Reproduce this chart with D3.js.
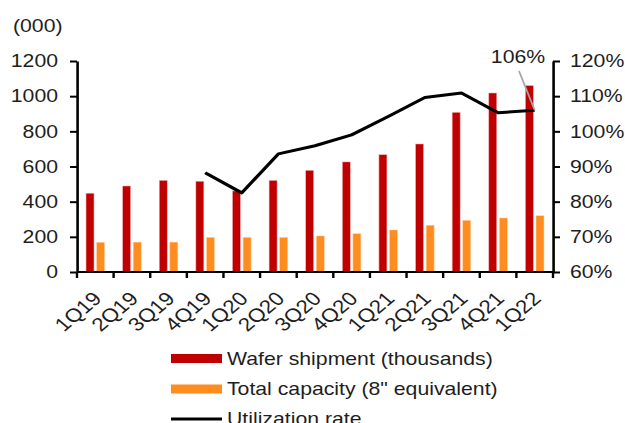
<!DOCTYPE html>
<html><head><meta charset="utf-8">
<script src="https://cdn.jsdelivr.net/npm/d3@7"></script>
<style>
html,body{margin:0;padding:0;background:#fff;overflow:hidden}
svg{display:block}
text{font-family:"Liberation Sans",Arial,sans-serif;fill:#1e1e1e}
</style></head>
<body>
<svg id="c" width="625" height="423"></svg>
<script>
const categories = ["1Q19","2Q19","3Q19","4Q19","1Q20","2Q20","3Q20","4Q20","1Q21","2Q21","3Q21","4Q21","1Q22"];
const waferShipment = [448,489,521,516,461,521,578,626,667,728,908,1018,1060];
const totalCapacity = [169,170,170,197,197,197,205,218,239,266,294,307,320];
const utilization = [null,null,null,0.882,0.825,0.936,0.959,0.990,1.042,1.096,1.109,1.053,1.060];
const leftTicks = [0,200,400,600,800,1000,1200];
const rightTicks = [0.6,0.7,0.8,0.9,1.0,1.1,1.2];
const seriesNames = ["Wafer shipment (thousands)","Total capacity (8\" equivalent)","Utilization rate"];
const colors = {red:"#C00000", orange:"#FF8C1E", line:"#000000"};

const SX = 1.18;           // horizontal stretch of the original picture
const ix = v => v / SX;    // screen x -> internal x
const FS = 18;

const svg = d3.select("#c");
const g = svg.append("g").attr("transform", `scale(${SX},1)`);

const x = d3.scaleBand().domain(categories).range([ix(77), ix(553)]).padding(0);
const xs = d3.scaleBand().domain(["w","c"]).range([ix(-9.3), ix(9.3)]).paddingInner(0.245);
const yL = d3.scaleLinear().domain([0,1200]).range([272,61]);
const yR = d3.scaleLinear().domain([0.6,1.2]).range([272,61]);

// bars
const cx = d => x(d) + x.bandwidth()/2;
g.append("g").selectAll("rect").data(categories).join("rect")
  .attr("x", d => cx(d) + xs("w")).attr("width", xs.bandwidth())
  .attr("y", (d,i) => yL(waferShipment[i])).attr("height", (d,i) => yL(0) - yL(waferShipment[i]))
  .attr("fill", colors.red).attr("stroke","#f0b4b4").attr("stroke-width",0.5);
g.append("g").selectAll("rect").data(categories).join("rect")
  .attr("x", d => cx(d) + xs("c")).attr("width", xs.bandwidth())
  .attr("y", (d,i) => yL(totalCapacity[i])).attr("height", (d,i) => yL(0) - yL(totalCapacity[i]))
  .attr("fill", colors.orange).attr("stroke","#ffd2a8").attr("stroke-width",0.5);

// line
const lineData = categories.map((c,i)=>({c, v: utilization[i]})).filter(d => d.v != null);
g.append("path").datum(lineData)
  .attr("d", d3.line().x(d => cx(d.c)).y(d => yR(d.v)))
  .attr("fill","none").attr("stroke",colors.line).attr("stroke-width",3).attr("stroke-linejoin","round");

// annotation
const last = lineData[lineData.length-1];
g.append("line")
  .attr("x1", ix(519)).attr("y1", 71)
  .attr("x2", cx(last.c)).attr("y2", yR(last.v))
  .attr("stroke","#a6a6a6").attr("stroke-width",1.5);
g.append("text").attr("x", ix(518)).attr("y", 57).attr("dy","0.35em")
  .attr("text-anchor","middle").style("font-size", FS+"px")
  .text(d3.format(".0%")(last.v));

// left axis
const aL = g.append("g").attr("transform", `translate(${ix(77)},0)`)
  .call(d3.axisLeft(yL).tickValues(leftTicks).tickFormat(d3.format("d")).tickSize(ix(7)).tickPadding(ix(12)).tickSizeOuter(0));
// right axis
const aR = g.append("g").attr("transform", `translate(${ix(553)},0)`)
  .call(d3.axisRight(yR).tickValues(rightTicks).tickFormat(d3.format(".0%")).tickSize(ix(7)).tickPadding(ix(10)).tickSizeOuter(0));
[aL,aR].forEach(a => {
  a.select(".domain").attr("stroke","#000").attr("stroke-width",2.2);
  a.selectAll(".tick line").attr("stroke","#000").attr("stroke-width",2);
  a.selectAll("text").style("font-size", FS+"px").attr("fill","#1e1e1e");
});

// bottom axis
const aB = g.append("g").attr("transform", `translate(0,${yL(0)})`);
aB.append("line").attr("x1", ix(77)).attr("x2", ix(553)).attr("y1",0).attr("y2",0)
  .attr("stroke","#000").attr("stroke-width",2);
const bounds = categories.map(c => x(c)).concat([x.range()[1]]);
aB.selectAll("line.tk").data(bounds).join("line").attr("class","tk")
  .attr("x1", d => d).attr("x2", d => d).attr("y1",0).attr("y2",6)
  .attr("stroke","#000").attr("stroke-width",ix(2.4));
aB.selectAll("text").data(categories).join("text")
  .attr("transform", d => `translate(${cx(d) + ix(2)},${23}) rotate(-45)`)
  .attr("text-anchor","end").attr("dy","0.35em")
  .style("font-size", "19px").text(d => d);

// unit label
g.append("text").attr("x", ix(13)).attr("y", 26).attr("dy","0.35em")
  .style("font-size", FS+"px").text("(000)");

// legend
const leg = g.append("g");
const rows = [358.5, 389, 419];
leg.append("rect").attr("x", ix(171)).attr("width", ix(51)).attr("y", rows[0]-4.5).attr("height", 9).attr("fill", colors.red);
leg.append("rect").attr("x", ix(171)).attr("width", ix(51)).attr("y", rows[1]-4.5).attr("height", 9).attr("fill", colors.orange);
leg.append("line").attr("x1", ix(171)).attr("x2", ix(222)).attr("y1", rows[2]).attr("y2", rows[2]).attr("stroke", colors.line).attr("stroke-width",3);
leg.selectAll("text").data(seriesNames).join("text")
  .attr("x", ix(227)).attr("y", (d,i) => rows[i]).attr("dy","0.35em")
  .style("font-size", FS+"px").text(d => d);
</script>
</body></html>
